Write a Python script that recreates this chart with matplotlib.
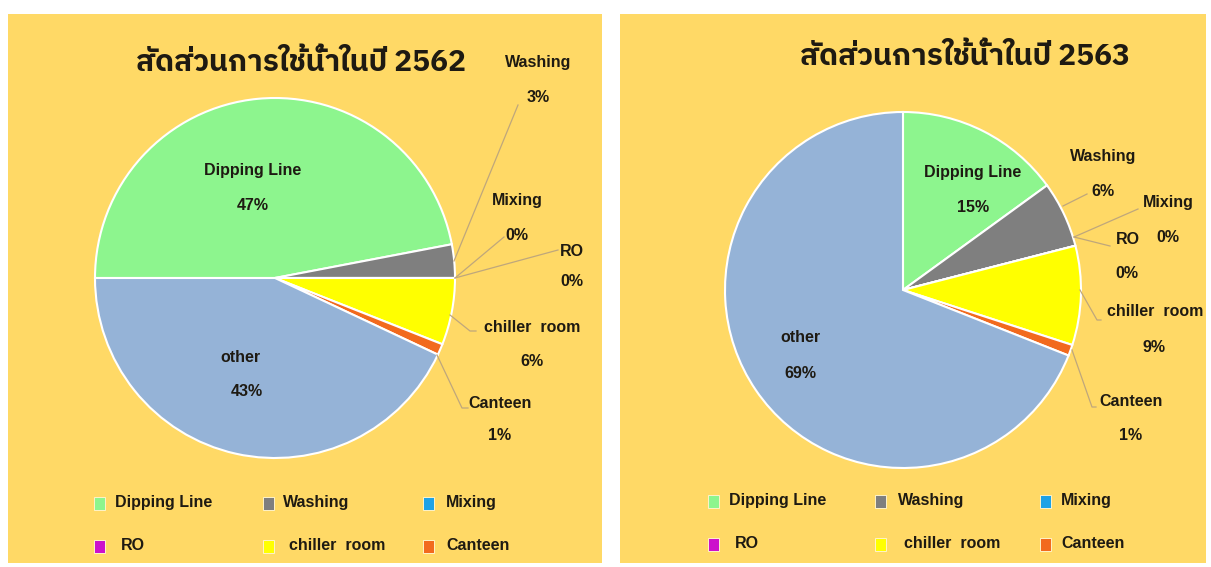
import matplotlib
matplotlib.use("Agg")
import matplotlib.pyplot as plt
from matplotlib.patches import Rectangle

# ---- data ----
categories = ["Dipping Line", "Washing", "Mixing", "RO", "chiller  room", "Canteen", "other"]
share_2562 = [47, 3, 0, 0, 6, 1, 43]
share_2563 = [15, 6, 0, 0, 9, 1, 69]
titles = ["สัดส่วนการใช้น้ำในปี 2562", "สัดส่วนการใช้น้ำในปี 2563"]
legend_names = ["Dipping Line", "Washing", "Mixing", "RO", "chiller  room", "Canteen"]

colors = ["#8DF58E", "#7F7F7F", "#1EA2E6", "#CC11CC", "#FFFF00", "#F26A1E", "#95B3D7"]
panel_bg = "#FFD966"
text_col = "#1E1A12"
lead_col = "#BFA77C"

W, H = 1211, 567
fig = plt.figure(figsize=(W / 100, H / 100), dpi=100)
fig.patch.set_facecolor("white")
ax = fig.add_axes([0, 0, 1, 1])


def Y(y):
    # pixel rows are measured from the top
    return H - y


label_font = dict(family=["Liberation Sans", "DejaVu Sans"], fontweight="bold",
                  fontsize=11.5, color=text_col, ha="center", va="center")
title_font = dict(family=["IBM Plex Sans Thai", "Liberation Sans", "DejaVu Sans"],
                  fontweight="bold", fontsize=21.5, color=text_col, ha="center", va="center")

panels = [
    dict(x0=8, x1=602, cx=275, cy=278, r=180, start=180, values=share_2562,
         title=(301, 63),
         inner={0: [(253, 171), (253, 206)], 6: [(240, 357), (247, 392)]},
         outer={1: [(538, 63), (538, 97), [(454, 261), (518, 105)]],
                2: [(517, 201), (517, 236), [(455, 278), (504, 237)]],
                3: [(572, 252), (572, 281), [(455, 278), (558, 250)]],
                4: [(532, 327), (532, 361), [(450, 315), (470, 331), (476, 331)]],
                5: [(500, 403), (500, 436), [(437, 355), (462, 408), (468, 408)]]},
         leg_x=[99, 268, 428], leg_tx=[115, 283, 446], leg_y=[503, 546]),
    dict(x0=620, x1=1206, cx=903, cy=290, r=178, start=90, values=share_2563,
         title=(965, 57),
         inner={0: [(973, 173), (973, 208)], 6: [(800, 338), (800, 373)]},
         outer={1: [(1103, 157), (1103, 191), [(1063, 206), (1087, 194)]],
                2: [(1168, 202), (1168, 237), [(1074, 237), (1138, 209)]],
                3: [(1128, 240), (1127, 274), [(1074, 237), (1110, 246)]],
                4: [(1155, 312), (1154, 347), [(1080, 290), (1097, 320), (1101, 320)]],
                5: [(1131, 402), (1131, 436), [(1072, 350), (1092, 407), (1096, 407)]]},
         leg_x=[713, 880, 1045], leg_tx=[729, 898, 1061], leg_y=[501, 544]),
]

for p, title in zip(panels, titles):
    ax.add_patch(Rectangle((p["x0"], Y(563)), p["x1"] - p["x0"], 563 - 14,
                           facecolor=panel_bg, edgecolor="none", zorder=0))
    ax.pie(p["values"], colors=colors, startangle=p["start"], counterclock=False,
           center=(p["cx"], Y(p["cy"])), radius=p["r"],
           wedgeprops=dict(edgecolor="white", linewidth=1.5))
    ax.text(p["title"][0], Y(p["title"][1]), title, **title_font)

    for i, (name_pos, pct_pos) in p["inner"].items():
        ax.text(name_pos[0], Y(name_pos[1]), categories[i], **label_font)
        ax.text(pct_pos[0], Y(pct_pos[1]), f"{p['values'][i]}%", **label_font)

    for i, (name_pos, pct_pos, line) in p["outer"].items():
        ax.plot([q[0] for q in line], [Y(q[1]) for q in line],
                color=lead_col, lw=0.9, zorder=3)
        ax.text(name_pos[0], Y(name_pos[1]), categories[i], **label_font)
        ax.text(pct_pos[0], Y(pct_pos[1]), f"{p['values'][i]}%", **label_font)

    # legend: two rows of three entries
    for k, name in enumerate(legend_names):
        row, col = divmod(k, 3)
        mx, my = p["leg_x"][col], p["leg_y"][row]
        ax.add_patch(Rectangle((mx - 5.5, Y(my) - 6.5), 11, 13, facecolor=colors[k],
                               edgecolor="#FFF3C8", linewidth=0.7, zorder=3))
        tx = p["leg_tx"][col] + (6 if name in ("RO", "chiller  room") else 0)
        ax.text(tx, Y(my), name, **{**label_font, "ha": "left"})

ax.set_xlim(0, W)
ax.set_ylim(0, H)
ax.set_aspect("auto")
ax.axis("off")
fig.savefig("out.png", dpi=100, facecolor="white")
